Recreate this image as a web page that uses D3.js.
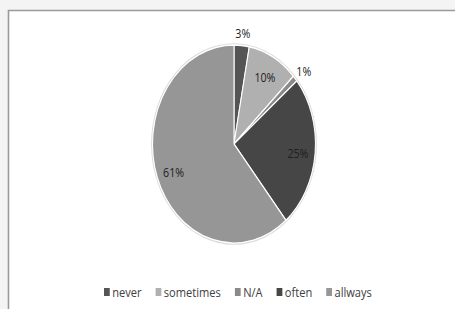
<!DOCTYPE html>
<html>
<head>
<meta charset="utf-8">
<script src="https://cdn.jsdelivr.net/npm/d3@7"></script>
<style>
  html, body { margin: 0; padding: 0; background: #f4f4f4; }
  svg { display: block; }
  text { font-family: "Open Sans", "Liberation Sans", sans-serif; fill: #404040; }
</style>
</head>
<body>
<div id="chart"></div>
<script>
// data
var categories = ["never", "sometimes", "N/A", "often", "allways"];
var shares = [3, 10, 1, 25, 61];
var sliceLabels = ["3%", "10%", "1%", "25%", "61%"];

var svgWidth = 455;
var svgHeight = 309;

// the picture was squeezed sideways, so the pie is an ellipse
var sx = 0.823;
var cx = 234, cy = 144;
var radius = 99;

var color = d3.scaleOrdinal()
  .domain(categories)
  .range(["#555555", "#b0b0b0", "#8a8a8a", "#464646", "#969696"]);

var svg = d3.select("#chart")
  .append("svg")
  .attr("width", svgWidth)
  .attr("height", svgHeight);

// chart area frame
svg.append("rect")
  .attr("x", 8.5)
  .attr("y", 10.5)
  .attr("width", svgWidth)
  .attr("height", svgHeight)
  .attr("fill", "#ffffff");
svg.append("path")
  .attr("d", `M8.5,${svgHeight} L8.5,10.5 L${svgWidth},10.5`)
  .attr("fill", "none")
  .attr("stroke", "#9a9a9a")
  .attr("stroke-width", 1.6);

var pieData = d3.pie()
  .sort(null)
  .value(d => d.value)(categories.map((c, i) => ({ name: c, value: shares[i], label: sliceLabels[i] })));

var arc = d3.arc().innerRadius(0).outerRadius(radius);
var inLabel = d3.arc().innerRadius(78).outerRadius(78);
var outLabel = d3.arc().innerRadius(113).outerRadius(113);

var pieGroup = svg.append("g")
  .attr("transform", `translate(${cx},${cy}) scale(${sx},1)`);

// soft edge round the pie
pieGroup.append("circle")
  .attr("r", radius + 1)
  .attr("fill", "none")
  .attr("stroke", "#dcdcdc")
  .attr("stroke-width", 1.5);

pieGroup.selectAll("path.slice")
  .data(pieData)
  .enter()
  .append("path")
  .classed("slice", true)
  .attr("d", arc)
  .attr("fill", d => color(d.data.name))
  .attr("stroke", "#ffffff")
  .attr("stroke-width", 1.3);

pieGroup.selectAll("text.lbl")
  .data(pieData)
  .enter()
  .append("text")
  .classed("lbl", true)
  .attr("transform", function (d) {
    var p = d.data.value < 5 ? outLabel.centroid(d) : inLabel.centroid(d);
    return `translate(${p[0]},${p[1]})`;
  })
  .attr("text-anchor", "middle")
  .attr("dy", "0.5em")
  .attr("font-size", "13px")
  .style("fill", "#1e1e1e")
  .text(d => d.data.label);

// legend
var legend = svg.append("g")
  .attr("transform", `translate(104,292) scale(${sx},1)`);

var xPos = 0;
categories.forEach(function (c) {
  var item = legend.append("g").attr("transform", `translate(${xPos},0)`);
  item.append("rect")
    .attr("x", 0)
    .attr("y", -4)
    .attr("width", 7)
    .attr("height", 8)
    .attr("fill", color(c));
  var t = item.append("text")
    .attr("x", 10)
    .attr("dy", "0.35em")
    .attr("font-size", "13.5px")
    .text(c);
  xPos += 10 + t.node().getComputedTextLength() + 17;
});
</script>
</body>
</html>
